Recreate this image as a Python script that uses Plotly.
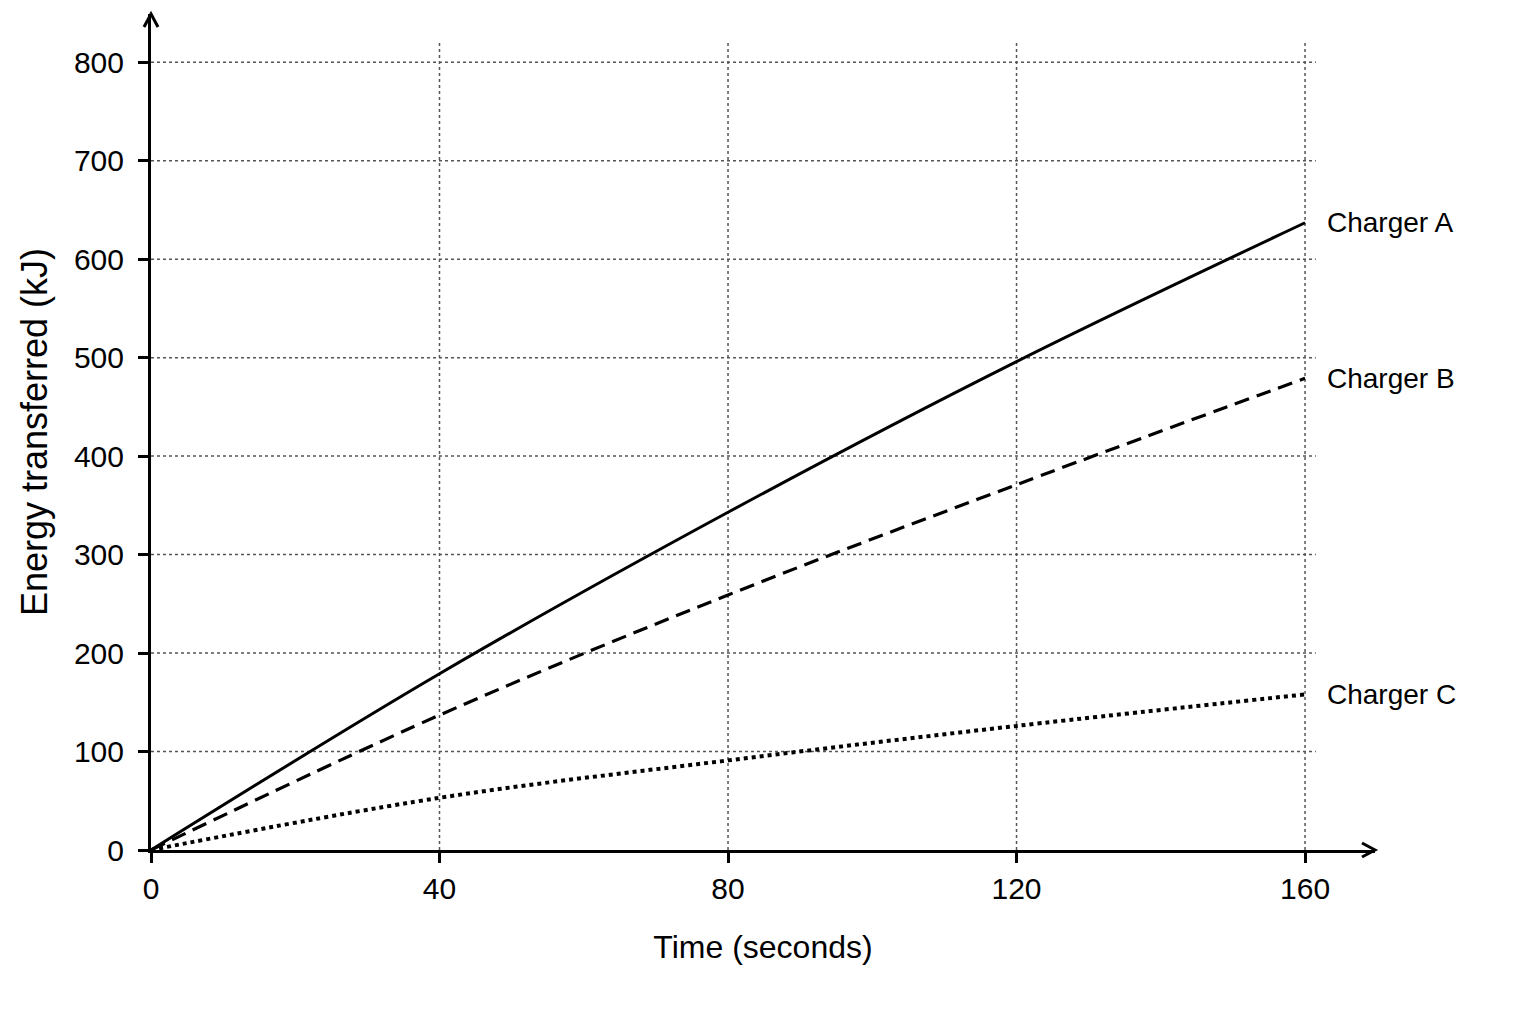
import plotly.graph_objects as go

# ---- data ----
time_s = [0, 40, 80, 120, 160]
charger_a = [0, 179, 343, 496, 637]
charger_b = [0, 137, 259, 371, 479]
charger_c = [0, 53, 91, 126, 158]
series_names = ['Charger A', 'Charger B', 'Charger C']
x_ticks = [0, 40, 80, 120, 160]
y_ticks = [0, 100, 200, 300, 400, 500, 600, 700, 800]

X_MAX = 169.7   # where the x arrow ends
Y_MAX = 849     # where the y arrow ends
FONT = 'Liberation Sans, Arial, sans-serif'

fig = go.Figure()

# grid drawn as shapes so it stops short of the arrows, like the original
for xv in x_ticks[1:]:
    fig.add_shape(type='line', x0=xv, x1=xv, y0=0, y1=822,
                  line=dict(color='#555', width=1.5, dash='dot'), layer='below')
for yv in y_ticks[1:]:
    fig.add_shape(type='line', x0=0, x1=161.5, y0=yv, y1=yv,
                  line=dict(color='#555', width=1.5, dash='dot'), layer='below')

styles = [
    dict(color='black', width=3, shape='spline'),
    dict(color='black', width=3.2, dash='15px,8px', shape='spline'),
    dict(color='black', width=4, dash='4px,4px', shape='spline'),
]
for name, vals, ln in zip(series_names, [charger_a, charger_b, charger_c], styles):
    fig.add_trace(go.Scatter(x=time_s, y=vals, mode='lines', name=name,
                             line=ln, hoverinfo='x+y+name'))
    fig.add_annotation(x=time_s[-1], y=vals[-1], text=name, showarrow=False,
                       xanchor='left', yanchor='middle', xshift=20,
                       font=dict(size=28, color='black', family=FONT))

# arrow heads at the ends of both axes (paper refs so they are not clipped)
fig.add_shape(type='path', xref='paper', yref='paper', xsizemode='pixel', ysizemode='pixel',
              xanchor=1, yanchor=0, path='M -13 7 L 0 0 L -13 -7',
              line=dict(color='black', width=3))
fig.add_shape(type='path', xref='paper', yref='paper', xsizemode='pixel', ysizemode='pixel',
              xanchor=0, yanchor=1, path='M -7 -13 L 0 0 L 7 -13',
              line=dict(color='black', width=3))

fig.update_layout(
    width=1520, height=1008,
    paper_bgcolor='white', plot_bgcolor='white',
    showlegend=False,
    margin=dict(l=143, r=153, t=6, b=166),
    font=dict(family=FONT, color='black'),
    xaxis=dict(range=[0, X_MAX], tickvals=x_ticks, showgrid=False, zeroline=False,
               showline=True, linecolor='black', linewidth=3,
               ticks='outside', ticklen=10, tickwidth=3, tickcolor='black',
               tickfont=dict(size=30),
               title=dict(text='Time (seconds)', font=dict(size=32), standoff=32)),
    yaxis=dict(range=[0, Y_MAX], tickvals=y_ticks, showgrid=False, zeroline=False,
               showline=True, linecolor='black', linewidth=3,
               ticks='outside', ticklen=10, tickwidth=3, tickcolor='black',
               tickfont=dict(size=30), ticklabelstandoff=8,
               title=dict(text='Energy transferred (kJ)', font=dict(size=36), standoff=16)),
)

fig.write_html('out.html')
